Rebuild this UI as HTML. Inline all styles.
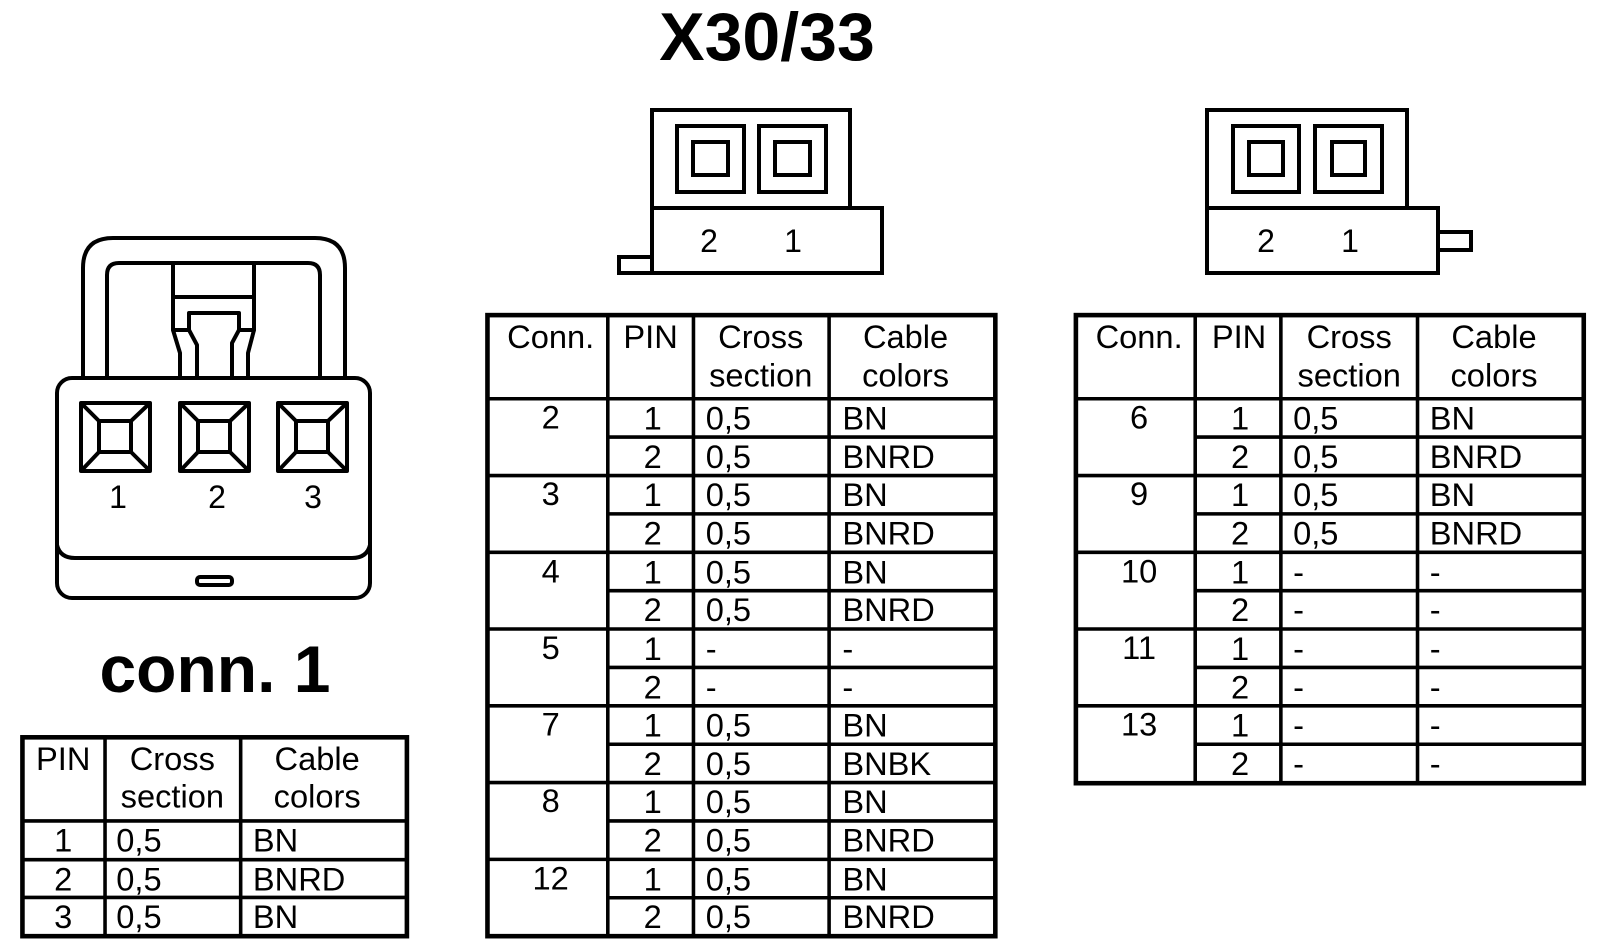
<!DOCTYPE html>
<html><head><meta charset="utf-8"><style>
html,body{margin:0;padding:0;background:#fff;}
svg{display:block;}
text{font-family:"Liberation Sans",Arial,sans-serif;fill:#000;}
.t{font-size:32px;}
.c{text-anchor:middle;}
</style></head><body>
<svg width="1600" height="950" viewBox="0 0 1600 950" xmlns="http://www.w3.org/2000/svg">
<rect width="1600" height="950" fill="#fff"/>
<text x="767" y="60" class="c" style="font-size:68px;font-weight:bold">X30/33</text>
<text x="215" y="692" class="c" style="font-size:66px;font-weight:bold">conn. 1</text>

<g fill="none" stroke="#000" stroke-width="4" stroke-linejoin="round">
<path d="M83,380 V268 Q83,238 113,238 H315 Q345,238 345,268 V380"/>
<path d="M107,380 V275 Q107,263 119,263 H308 Q320,263 320,275 V380"/>
<path d="M173,263 V330 H189 V313 H239 V330 H254 V263"/>
<line x1="173" y1="297" x2="254" y2="297"/>
<path d="M173,330 L180,353 V380"/><path d="M189,330 L197,345 V380"/>
<path d="M254,330 L248,353 V380"/><path d="M239,330 L232,343 V380"/>
<rect x="57" y="378" width="313" height="220" rx="15"/>
<path d="M57,545 Q60,558 75,558 H352 Q367,558 370,545"/>
<rect x="197" y="577" width="35" height="8" rx="3"/>
<rect x="81" y="403" width="69" height="68"/><rect x="99" y="421" width="32" height="31"/>
<path d="M81,403 L99,421 M150,403 L131,421 M81,471 L99,452 M150,471 L131,452"/>
<rect x="180" y="403" width="69" height="68"/><rect x="198" y="421" width="32" height="31"/>
<path d="M180,403 L198,421 M249,403 L230,421 M180,471 L198,452 M249,471 L230,452"/>
<rect x="278" y="403" width="69" height="68"/><rect x="296" y="421" width="32" height="31"/>
<path d="M278,403 L296,421 M347,403 L328,421 M278,471 L296,452 M347,471 L328,452"/>
</g>
<text x="118" y="508" class="c" style="font-size:32px">1</text>
<text x="217" y="508" class="c" style="font-size:32px">2</text>
<text x="313" y="508" class="c" style="font-size:32px">3</text>

<g fill="none" stroke="#000" stroke-width="4">
<rect x="652" y="110" width="198" height="98"/>
<rect x="652" y="208" width="230" height="65"/>
<rect x="619" y="257" width="33" height="16"/>
<rect x="677" y="126" width="67" height="66"/><rect x="693" y="142" width="35" height="33"/>
<rect x="759" y="126" width="67" height="66"/><rect x="775" y="142" width="35" height="33"/>
<rect x="1207" y="110" width="200" height="98"/>
<rect x="1207" y="208" width="231" height="65"/>
<rect x="1438" y="232" width="33" height="18"/>
<rect x="1233" y="126" width="66" height="66"/><rect x="1249" y="142" width="34" height="33"/>
<rect x="1315" y="126" width="67" height="66"/><rect x="1332" y="142" width="33" height="33"/>
</g>
<text x="709" y="252" class="c" style="font-size:32px">2</text>
<text x="793" y="252" class="c" style="font-size:32px">1</text>
<text x="1266" y="252" class="c" style="font-size:32px">2</text>
<text x="1350" y="252" class="c" style="font-size:32px">1</text>

<g transform="scale(1.0198)">
<g stroke="#000" fill="none">
<rect x="22" y="723" width="377" height="195" stroke-width="4.5"/>
<g stroke-width="3.5">
<line x1="103" y1="723" x2="103" y2="918"/><line x1="236" y1="723" x2="236" y2="918"/>
<line x1="22" y1="805" x2="399" y2="805"/><line x1="22" y1="843" x2="399" y2="843"/><line x1="22" y1="880" x2="399" y2="880"/>
</g></g>
<g class="t">
<text x="62" y="755" class="c">PIN</text>
<text x="169" y="755" class="c">Cross</text><text x="169" y="792" class="c">section</text>
<text x="311" y="755" class="c">Cable</text><text x="311" y="792" class="c">colors</text>
<text x="62" y="835" class="c">1</text><text x="114" y="835">0,5</text><text x="248" y="835">BN</text>
<text x="62" y="873" class="c">2</text><text x="114" y="873">0,5</text><text x="248" y="873">BNRD</text>
<text x="62" y="910" class="c">3</text><text x="114" y="910">0,5</text><text x="248" y="910">BN</text>
</g>

<g stroke="#000" fill="none">
<rect x="478" y="309" width="498" height="609" stroke-width="4.5"/>
<g stroke-width="3.5">
<line x1="596" y1="309" x2="596" y2="918"/><line x1="680" y1="309" x2="680" y2="918"/><line x1="813" y1="309" x2="813" y2="918"/>
<line x1="478" y1="391" x2="976" y2="391"/>
<line x1="478" y1="466.3" x2="976" y2="466.3"/><line x1="478" y1="541.6" x2="976" y2="541.6"/>
<line x1="478" y1="616.8" x2="976" y2="616.8"/><line x1="478" y1="692.1" x2="976" y2="692.1"/>
<line x1="478" y1="767.4" x2="976" y2="767.4"/><line x1="478" y1="842.7" x2="976" y2="842.7"/>
<line x1="596" y1="428.6" x2="976" y2="428.6"/><line x1="596" y1="503.9" x2="976" y2="503.9"/>
<line x1="596" y1="579.2" x2="976" y2="579.2"/><line x1="596" y1="654.5" x2="976" y2="654.5"/>
<line x1="596" y1="729.8" x2="976" y2="729.8"/><line x1="596" y1="805" x2="976" y2="805"/>
<line x1="596" y1="880.3" x2="976" y2="880.3"/>
</g></g>
<g class="t">
<text x="540" y="341" class="c">Conn.</text>
<text x="638" y="341" class="c">PIN</text>
<text x="746" y="341" class="c">Cross</text><text x="746" y="379" class="c">section</text>
<text x="888" y="341" class="c">Cable</text><text x="888" y="379" class="c">colors</text>

<text x="540" y="420" class="c">2</text>
<text x="640" y="421" class="c">1</text><text x="692" y="421">0,5</text><text x="826" y="421">BN</text>
<text x="640" y="459" class="c">2</text><text x="692" y="459">0,5</text><text x="826" y="459">BNRD</text>
<text x="540" y="495" class="c">3</text>
<text x="640" y="496" class="c">1</text><text x="692" y="496">0,5</text><text x="826" y="496">BN</text>
<text x="640" y="534" class="c">2</text><text x="692" y="534">0,5</text><text x="826" y="534">BNRD</text>
<text x="540" y="571" class="c">4</text>
<text x="640" y="572" class="c">1</text><text x="692" y="572">0,5</text><text x="826" y="572">BN</text>
<text x="640" y="609" class="c">2</text><text x="692" y="609">0,5</text><text x="826" y="609">BNRD</text>
<text x="540" y="646" class="c">5</text>
<text x="640" y="647" class="c">1</text><text x="692" y="647">-</text><text x="826" y="647">-</text>
<text x="640" y="685" class="c">2</text><text x="692" y="685">-</text><text x="826" y="685">-</text>
<text x="540" y="721" class="c">7</text>
<text x="640" y="722" class="c">1</text><text x="692" y="722">0,5</text><text x="826" y="722">BN</text>
<text x="640" y="760" class="c">2</text><text x="692" y="760">0,5</text><text x="826" y="760">BNBK</text>
<text x="540" y="796" class="c">8</text>
<text x="640" y="797" class="c">1</text><text x="692" y="797">0,5</text><text x="826" y="797">BN</text>
<text x="640" y="835" class="c">2</text><text x="692" y="835">0,5</text><text x="826" y="835">BNRD</text>
<text x="540" y="872" class="c">12</text>
<text x="640" y="873" class="c">1</text><text x="692" y="873">0,5</text><text x="826" y="873">BN</text>
<text x="640" y="910" class="c">2</text><text x="692" y="910">0,5</text><text x="826" y="910">BNRD</text>
</g>

<g stroke="#000" fill="none">
<rect x="1055" y="309" width="498" height="459" stroke-width="4.5"/>
<g stroke-width="3.5">
<line x1="1172" y1="309" x2="1172" y2="768"/><line x1="1256" y1="309" x2="1256" y2="768"/><line x1="1390" y1="309" x2="1390" y2="768"/>
<line x1="1055" y1="391" x2="1553" y2="391"/>
<line x1="1055" y1="466.3" x2="1553" y2="466.3"/><line x1="1055" y1="541.6" x2="1553" y2="541.6"/>
<line x1="1055" y1="616.8" x2="1553" y2="616.8"/><line x1="1055" y1="692.1" x2="1553" y2="692.1"/>
<line x1="1172" y1="428.6" x2="1553" y2="428.6"/><line x1="1172" y1="503.9" x2="1553" y2="503.9"/>
<line x1="1172" y1="579.2" x2="1553" y2="579.2"/><line x1="1172" y1="654.5" x2="1553" y2="654.5"/>
<line x1="1172" y1="729.8" x2="1553" y2="729.8"/>
</g></g>
<g class="t">
<text x="1117" y="341" class="c">Conn.</text>
<text x="1215" y="341" class="c">PIN</text>
<text x="1323" y="341" class="c">Cross</text><text x="1323" y="379" class="c">section</text>
<text x="1465" y="341" class="c">Cable</text><text x="1465" y="379" class="c">colors</text>

<text x="1117" y="420" class="c">6</text>
<text x="1216" y="421" class="c">1</text><text x="1268" y="421">0,5</text><text x="1402" y="421">BN</text>
<text x="1216" y="459" class="c">2</text><text x="1268" y="459">0,5</text><text x="1402" y="459">BNRD</text>
<text x="1117" y="495" class="c">9</text>
<text x="1216" y="496" class="c">1</text><text x="1268" y="496">0,5</text><text x="1402" y="496">BN</text>
<text x="1216" y="534" class="c">2</text><text x="1268" y="534">0,5</text><text x="1402" y="534">BNRD</text>
<text x="1117" y="571" class="c">10</text>
<text x="1216" y="572" class="c">1</text><text x="1268" y="572">-</text><text x="1402" y="572">-</text>
<text x="1216" y="609" class="c">2</text><text x="1268" y="609">-</text><text x="1402" y="609">-</text>
<text x="1117" y="646" class="c">11</text>
<text x="1216" y="647" class="c">1</text><text x="1268" y="647">-</text><text x="1402" y="647">-</text>
<text x="1216" y="685" class="c">2</text><text x="1268" y="685">-</text><text x="1402" y="685">-</text>
<text x="1117" y="721" class="c">13</text>
<text x="1216" y="722" class="c">1</text><text x="1268" y="722">-</text><text x="1402" y="722">-</text>
<text x="1216" y="760" class="c">2</text><text x="1268" y="760">-</text><text x="1402" y="760">-</text>
</g>
</g>
</svg>
</body></html>
